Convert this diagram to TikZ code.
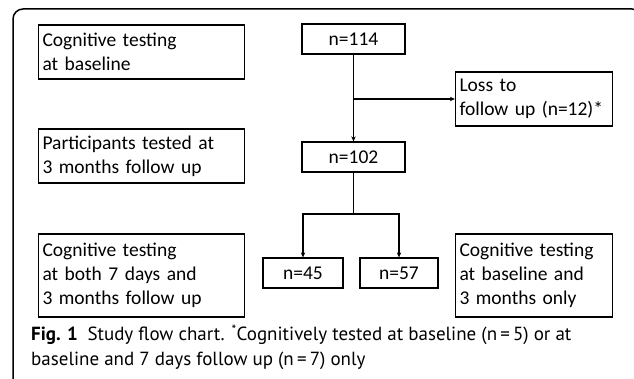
\documentclass[tikz,border=0pt]{standalone}
\usepackage{fontspec}
\setmainfont{Carlito}
\newfontfamily\capfont{PT Sans}
\usepackage{tikz}
\usetikzlibrary{arrows.meta, positioning}

\tikzstyle{stagebox}  = [draw, line width=1.3pt, align=left, inner xsep=4pt, inner ysep=2pt, font=\fontsize{19.5}{24}\selectfont]
\tikzstyle{countbox}  = [draw, line width=1.3pt, inner sep=0pt, minimum height=30pt, font=\fontsize{19.5}{24}\selectfont]
\tikzstyle{flow}      = [line width=1.5pt]
\tikzstyle{dirflow}   = [line width=1.5pt, -{Stealth[length=5pt, width=4.5pt]}]

\begin{document}
\begin{tikzpicture}[x=1pt, y=-1pt]

\useasboundingbox (0,0) rectangle (634,379);
\begin{scope}
\clip (0,0) rectangle (634,379);
\draw[line width=1.5pt, rounded corners=10pt] (13,9) rectangle (642,395);
\end{scope}

% left column
\node[stagebox, text width=198pt, minimum height=54pt] (L1) at (141.5,52) {Cognitive testing\\at baseline};
\node[stagebox, text width=198pt, minimum height=54pt] (L2) at (141.5,156) {Participants tested at\\3 months follow up};
\node[stagebox, text width=198pt, minimum height=83pt] (L3) at (141.5,275.5) {Cognitive testing\\at both 7 days and\\3 months follow up};

% counts
\node[countbox, minimum width=103pt] (N1) at (353.5,39) {n=114};
\node[countbox, minimum width=103pt] (N2) at (353.5,157) {n=102};
\node[countbox, minimum width=80pt] (N3) at (303,273) {n=45};
\node[countbox, minimum width=78pt] (N4) at (399,273) {n=57};

% right column
\node[stagebox, text width=149pt, minimum height=54pt] (R1) at (534,99) {Loss to\\follow up (n=12)*};
\node[stagebox, text width=149pt, minimum height=83pt] (R2) at (534,275.5) {Cognitive testing\\at baseline and\\3 months only};

\coordinate (T1) at (N1.south |- R1.west);
\coordinate (T2) at (353.5,214);

\draw[dirflow] (N1) -- (N2);
\draw[dirflow] (T1) -- (R1);
\draw[flow] (N2) -- (T2);
\draw[dirflow] (T2) -| (N3);
\draw[dirflow] (T2) -| (N4);

% caption
\node[anchor=north west, inner sep=0pt, align=left, font=\capfont\fontsize{19}{25}\selectfont] (cap) at (31,325)
  {\textbf{Fig. 1}\enspace Study flow chart. \textsuperscript{*}Cognitively tested at baseline (n\,=\,5) or at\\
   baseline and 7 days follow up (n\,=\,7) only};

\end{tikzpicture}
\end{document}
